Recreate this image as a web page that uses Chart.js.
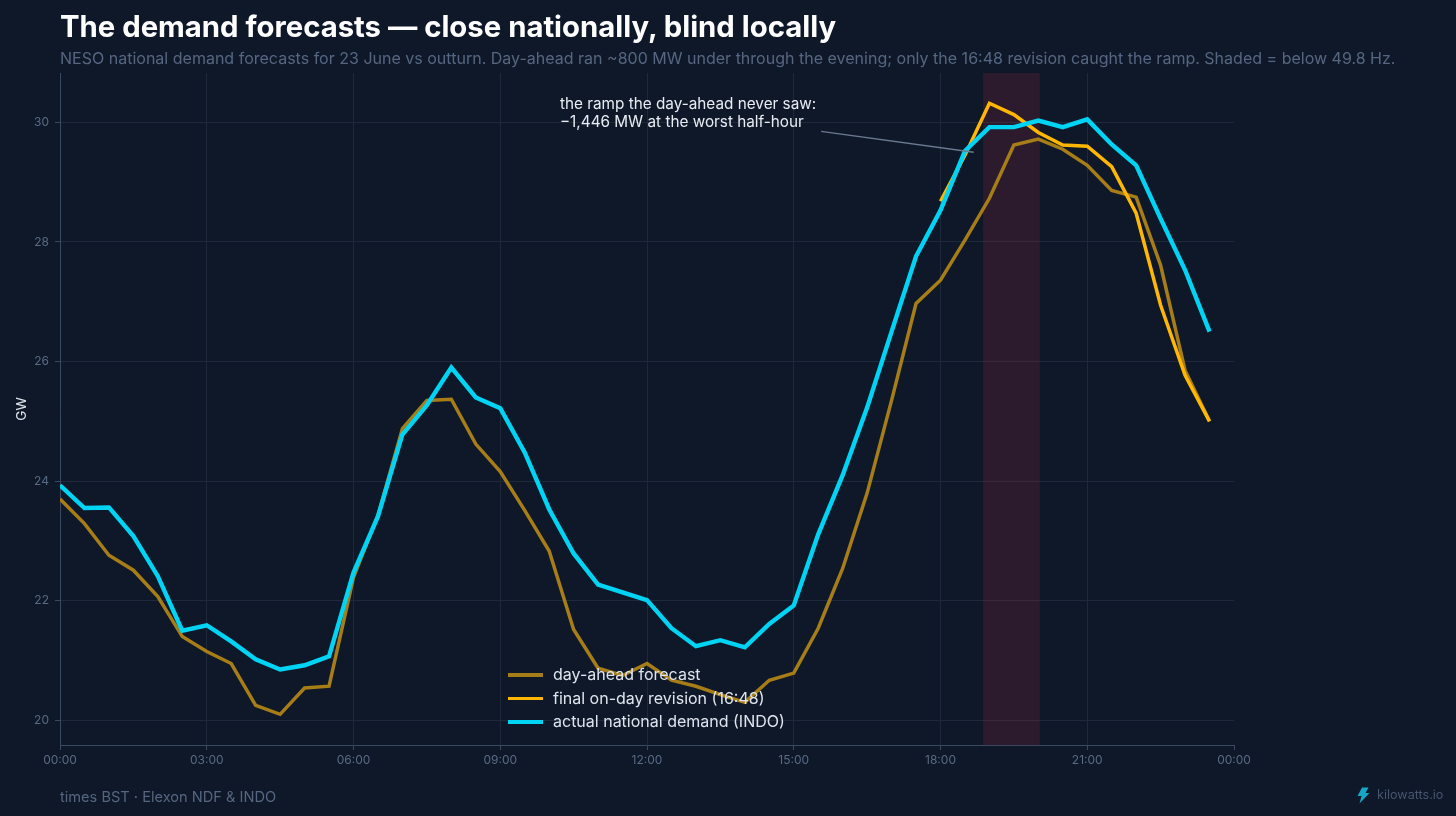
<!DOCTYPE html>
<html lang="en">
<head>
<meta charset="utf-8">
<title>The demand forecasts</title>
<script src="https://cdn.jsdelivr.net/npm/chart.js@4/dist/chart.umd.min.js"></script>
<style>
  html, body { margin: 0; padding: 0; background: #0e1829; }
  body { position: relative; width: 1456px; height: 816px; overflow: hidden; font-family: Inter, sans-serif; }
  canvas { position: absolute; left: 0; top: 0; }
  .abs { position: absolute; white-space: nowrap; }
  #title { left: 60px; top: 10px; font-size: 29.3px; line-height: 34px; font-weight: 700; color: #ffffff; }
  #subtitle { left: 60px; top: 48px; font-size: 16.03px; line-height: 20px; color: #566681; }
  #note { left: 560px; top: 95px; font-size: 15.3px; line-height: 18px; color: #e8edf4; }
  #source { left: 60px; top: 788px; font-size: 14.6px; line-height: 18px; color: #566681; }
  #brand { left: 1377px; top: 787px; font-size: 12.6px; line-height: 16px; color: #465570; }
  #bolt { position: absolute; left: 1356px; top: 787px; }
  #legend { left: 508px; top: 663px; font-size: 16px; line-height: 23.5px; color: #dfe5ee; }
  #legend div { display: flex; align-items: center; }
  #legend i { display: block; width: 35px; margin-right: 10px; }
</style>
</head>
<body>
<canvas id="chart" width="1456" height="816"></canvas>
<div class="abs" id="title">The demand forecasts — close nationally, blind locally</div>
<div class="abs" id="subtitle">NESO national demand forecasts for 23 June vs outturn. Day-ahead ran ~800 MW under through the evening; only the 16:48 revision caught the ramp. Shaded = below 49.8 Hz.</div>
<div class="abs" id="note">the ramp the day-ahead never saw:<br>−1,446 MW at the worst half-hour</div>
<div class="abs" id="legend"></div>
<div class="abs" id="source">times BST · Elexon NDF &amp; INDO</div>
<svg id="bolt" width="14" height="17" viewBox="0 0 14 17"><path d="M6 0.5 L12.5 0.5 L9.5 6 L13.5 6 L3.5 16.5 L5.5 9 L1.5 9 Z" fill="#17a5c6"/></svg>
<div class="abs" id="brand">kilowatts.io</div>

<script>
const slots = [
  "00:00","00:30","01:00","01:30","02:00","02:30","03:00","03:30",
  "04:00","04:30","05:00","05:30","06:00","06:30","07:00","07:30",
  "08:00","08:30","09:00","09:30","10:00","10:30","11:00","11:30",
  "12:00","12:30","13:00","13:30","14:00","14:30","15:00","15:30",
  "16:00","16:30","17:00","17:30","18:00","18:30","19:00","19:30",
  "20:00","20:30","21:00","21:30","22:00","22:30","23:00","23:30"
]

const dayAhead = [
  23.70, 23.29, 22.76, 22.51, 22.07, 21.40, 21.15, 20.95,
  20.25, 20.10, 20.54, 20.57, 22.39, 23.43, 24.88, 25.35,
  25.37, 24.62, 24.16, 23.51, 22.83, 21.52, 20.87, 20.75,
  20.95, 20.67, 20.57, 20.43, 20.30, 20.67, 20.79, 21.54,
  22.54, 23.80, 25.35, 26.97, 27.36, 28.03, 28.73, 29.62,
  29.72, 29.55, 29.28, 28.86, 28.75, 27.61, 25.85, 25.00
]

// the 16:48 revision only covers the evening
const finalRevision = [
  null, null, null, null, null, null, null, null,
  null, null, null, null, null, null, null, null,
  null, null, null, null, null, null, null, null,
  null, null, null, null, null, null, null, null,
  null, null, null, null, 28.68, 29.45, 30.32, 30.13,
  29.83, 29.62, 29.60, 29.26, 28.48, 26.94, 25.77, 25.00
]

const actual = [
  23.93, 23.55, 23.56, 23.08, 22.41, 21.50, 21.59, 21.32,
  21.02, 20.85, 20.92, 21.07, 22.47, 23.41, 24.78, 25.27,
  25.90, 25.40, 25.22, 24.48, 23.53, 22.79, 22.27, 22.14,
  22.01, 21.54, 21.24, 21.34, 21.22, 21.61, 21.92, 23.11,
  24.10, 25.23, 26.50, 27.76, 28.53, 29.52, 29.92, 29.92,
  30.03, 29.92, 30.05, 29.63, 29.28, 28.39, 27.53, 26.50
]

const yTicks = [20, 22, 24, 26, 28, 30]

// hours of the day, below 49.8 Hz
const lowFreqBand = [18.87, 20.03]
// annotation leader: [hour, GW] at each end
const leaderFrom = [15.56, 29.85]
const leaderTo = [18.68, 29.50]

const toHours = (t) => {
  const [h, m] = t.split(":").map(Number)
  return h + m / 60
}
const toPoints = (vals) => vals.map((v, i) => ({ x: toHours(slots[i]), y: v }))
const hhmm = (h) => String(h % 24).padStart(2, "0") + ":00"

const tickColor = "#5a6a84"
const gridColor = "#1e293b"
const axisColor = "#3a4860"
const tickFont = { family: "Inter", size: 12 }

const series = [
  { label: "day-ahead forecast", values: dayAhead, color: "#a67d17", width: 3.5, order: 3 },
  { label: "final on-day revision (16:48)", values: finalRevision, color: "#ffb703", width: 3.5, order: 2 },
  { label: "actual national demand (INDO)", values: actual, color: "#00d4f5", width: 4.4, order: 1 }
]

const bandPlugin = {
  id: "lowFreqBand",
  beforeDatasetsDraw(chart) {
    const { ctx, chartArea, scales } = chart
    const x0 = scales.x.getPixelForValue(lowFreqBand[0])
    const x1 = scales.x.getPixelForValue(lowFreqBand[1])
    ctx.save()
    ctx.fillStyle = "rgba(221, 53, 70, 0.14)"
    ctx.fillRect(x0, chartArea.top, x1 - x0, chartArea.bottom - chartArea.top)
    ctx.restore()
  }
}

const leaderPlugin = {
  id: "leader",
  afterDatasetsDraw(chart) {
    const { ctx, scales } = chart
    ctx.save()
    ctx.strokeStyle = "#6b7a90"
    ctx.lineWidth = 1.3
    ctx.beginPath()
    ctx.moveTo(scales.x.getPixelForValue(leaderFrom[0]), scales.y.getPixelForValue(leaderFrom[1]))
    ctx.lineTo(scales.x.getPixelForValue(leaderTo[0]), scales.y.getPixelForValue(leaderTo[1]))
    ctx.stroke()
    ctx.restore()
  }
}

new Chart(document.getElementById("chart").getContext("2d"), {
  type: "line",
  data: {
    datasets: series.map((s) => ({
      label: s.label,
      data: toPoints(s.values),
      borderColor: s.color,
      borderWidth: s.width,
      order: s.order,
      pointRadius: 0,
      tension: 0,
      spanGaps: false
    }))
  },
  plugins: [bandPlugin, leaderPlugin],
  options: {
    responsive: false,
    animation: false,
    layout: { padding: { top: 73, right: 222 } },
    plugins: {
      legend: { display: false },
      tooltip: { enabled: false }
    },
    scales: {
      x: {
        type: "linear",
        min: 0,
        max: 24,
        afterFit: (scale) => { scale.height = 71 },
        afterBuildTicks: (scale) => {
          scale.ticks = slots.filter((t, i) => i % 6 === 0).map((t) => ({ value: toHours(t) })).concat({ value: 24 })
        },
        border: { color: axisColor },
        grid: {
          // no vertical rule at the closing midnight, only its tick
          color: (c) => (c.tick && c.tick.value === 24 ? "transparent" : gridColor),
          tickColor: axisColor,
          tickLength: 5
        },
        ticks: {
          color: tickColor,
          font: tickFont,
          padding: 3,
          maxRotation: 0,
          autoSkip: false,
          callback: hhmm
        }
      },
      y: {
        min: 19.587,
        max: 30.825,
        afterFit: (scale) => { scale.width = 60 },
        afterBuildTicks: (scale) => {
          scale.ticks = yTicks.map((v) => ({ value: v }))
        },
        border: { color: axisColor },
        grid: { color: gridColor, tickColor: axisColor, tickLength: 5 },
        title: {
          display: true,
          text: "GW",
          color: "#dfe5ee",
          font: { family: "Inter", size: 13.5 },
          padding: { top: 14, bottom: 0 }
        },
        ticks: {
          color: tickColor,
          font: tickFont,
          padding: 6
        }
      }
    }
  }
})

// legend sits inside the plot, over the lines
const legendEl = document.getElementById("legend")
series.forEach((s) => {
  const row = document.createElement("div")
  const swatch = document.createElement("i")
  swatch.style.height = s.width + "px"
  swatch.style.background = s.color
  row.appendChild(swatch)
  row.appendChild(document.createTextNode(s.label))
  legendEl.appendChild(row)
})
</script>
</body>
</html>
